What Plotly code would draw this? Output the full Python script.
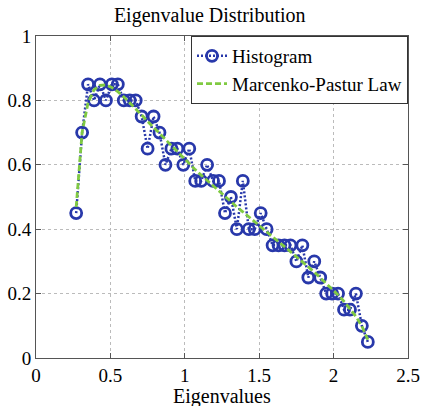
import plotly.graph_objects as go

# bin centres (eigenvalues)
eigenvalues = [0.27, 0.31, 0.35, 0.39, 0.43, 0.47, 0.51, 0.55, 0.59, 0.63,
               0.67, 0.71, 0.75, 0.79, 0.83, 0.87, 0.91, 0.95, 0.99, 1.03,
               1.07, 1.11, 1.15, 1.19, 1.23, 1.27, 1.31, 1.35, 1.39, 1.43,
               1.47, 1.51, 1.55, 1.59, 1.63, 1.67, 1.71, 1.75, 1.79, 1.83,
               1.87, 1.91, 1.95, 1.99, 2.03, 2.07, 2.11, 2.15, 2.19, 2.23]

histogram = [0.45, 0.70, 0.85, 0.80, 0.85, 0.80, 0.85, 0.85, 0.80, 0.80,
             0.80, 0.75, 0.65, 0.75, 0.70, 0.60, 0.65, 0.65, 0.60, 0.65,
             0.55, 0.55, 0.60, 0.55, 0.55, 0.45, 0.50, 0.40, 0.55, 0.40,
             0.40, 0.45, 0.40, 0.35, 0.35, 0.35, 0.35, 0.30, 0.35, 0.25,
             0.30, 0.25, 0.20, 0.20, 0.20, 0.15, 0.15, 0.20, 0.10, 0.05]

marcenko_pastur = [0.469, 0.701, 0.793, 0.833, 0.847, 0.848, 0.840, 0.827, 0.811, 0.793,
                   0.774, 0.755, 0.735, 0.716, 0.696, 0.677, 0.658, 0.639, 0.621, 0.603,
                   0.585, 0.568, 0.551, 0.534, 0.517, 0.501, 0.485, 0.469, 0.454, 0.438,
                   0.422, 0.407, 0.392, 0.377, 0.361, 0.346, 0.331, 0.315, 0.299, 0.283,
                   0.267, 0.250, 0.233, 0.215, 0.196, 0.176, 0.154, 0.129, 0.099, 0.057]

x_ticks = [0, 0.5, 1, 1.5, 2, 2.5]
x_tick_labels = ["0", "0.5", "1", "1.5", "2", "2.5"]
y_ticks = [0, 0.2, 0.4, 0.6, 0.8, 1]
y_tick_labels = ["0", "0.2", "0.4", "0.6", "0.8", "1"]

SERIF = "Liberation Serif"
BLUE = "rgb(40,56,170)"
GREEN = "rgb(128,202,66)"

fig = go.Figure()
fig.add_trace(go.Scatter(
    x=eigenvalues, y=histogram, name="Histogram",
    mode="lines+markers",
    line=dict(color=BLUE, width=2.5, dash="2px,2px"),
    marker=dict(symbol="circle-open", size=11, color=BLUE, line=dict(width=2.8, color=BLUE)),
))
fig.add_trace(go.Scatter(
    x=eigenvalues, y=marcenko_pastur, name="Marcenko-Pastur Law",
    mode="lines",
    line=dict(color=GREEN, width=2.8, dash="6px,3px"),
))

axis_common = dict(
    showline=True, linecolor="#555", linewidth=1, mirror="ticks",
    ticks="inside", ticklen=5, tickcolor="#555",
    showgrid=True, gridcolor="#bbbbbb", griddash="dot", gridwidth=1,
    zeroline=False, automargin=False,
    tickfont=dict(family=SERIF, size=19, color="black"),
)

fig.update_layout(
    width=422, height=406,
    margin=dict(l=36, r=14, t=36, b=48),
    paper_bgcolor="white", plot_bgcolor="white",
    font=dict(family=SERIF, size=19, color="black"),
    title=dict(text="Eigenvalue Distribution", x=0.497, xanchor="center",
               y=0.963, yanchor="middle",
               font=dict(family=SERIF, size=20, color="black")),
    xaxis=dict(range=[0, 2.5], tickvals=x_ticks, ticktext=x_tick_labels,
               ticklabelstandoff=0, **axis_common),
    yaxis=dict(range=[0, 1], tickvals=y_ticks, ticktext=y_tick_labels,
               ticklabelstandoff=0, **axis_common),
    legend=dict(x=1, xanchor="right", y=1, yanchor="top",
                bordercolor="#333", borderwidth=1, bgcolor="white",
                font=dict(family=SERIF, size=19, color="black"),
                tracegroupgap=0, itemwidth=30),
    annotations=[dict(text="Eigenvalues", xref="paper", yref="paper", x=0.5, y=-0.12,
                      xanchor="center", yanchor="middle", showarrow=False,
                      font=dict(family=SERIF, size=20, color="black"))],
    showlegend=True,
)

fig.write_html("out.html", config={"displayModeBar": False},
               post_script="document.body.style.margin='0px';")
